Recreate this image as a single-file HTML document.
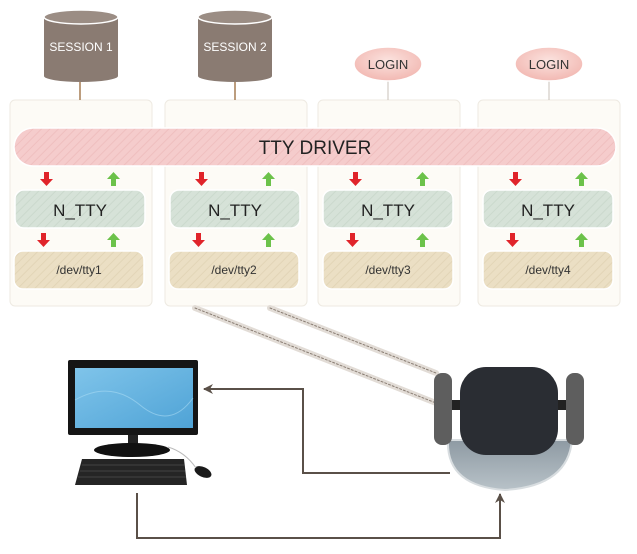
<!DOCTYPE html>
<html><head><meta charset="utf-8"><style>
html,body{margin:0;padding:0;background:#fff;overflow:hidden;}
svg{display:block;font-family:"Liberation Sans",sans-serif;}
</style></head><body>
<svg width="637" height="554" viewBox="0 0 637 554" xmlns="http://www.w3.org/2000/svg">
<defs>
<pattern id="hp" width="6" height="6" patternUnits="userSpaceOnUse" patternTransform="rotate(45)"><rect width="6" height="6" fill="#f5cccc"/><line x1="0" y1="0" x2="0" y2="6" stroke="#efbfbf" stroke-width="2"/></pattern>
<pattern id="hg" width="6" height="6" patternUnits="userSpaceOnUse" patternTransform="rotate(45)"><rect width="6" height="6" fill="#d6e2d8"/><line x1="0" y1="0" x2="0" y2="6" stroke="#cbd9cd" stroke-width="2"/></pattern>
<pattern id="ht" width="6" height="6" patternUnits="userSpaceOnUse" patternTransform="rotate(45)"><rect width="6" height="6" fill="#ebdfc4"/><line x1="0" y1="0" x2="0" y2="6" stroke="#e2d5b7" stroke-width="2"/></pattern>
<radialGradient id="lg" cx="0.5" cy="0.4" r="0.6"><stop offset="0" stop-color="#fbe3df"/><stop offset="1" stop-color="#f2b8b2"/></radialGradient>
<linearGradient id="scr" x1="0" y1="0" x2="1" y2="1"><stop offset="0" stop-color="#7fc4ea"/><stop offset="1" stop-color="#4fa3d6"/></linearGradient>
<linearGradient id="seat" x1="0" y1="0" x2="0" y2="1"><stop offset="0" stop-color="#8e9aa3"/><stop offset="1" stop-color="#b8c2c8"/></linearGradient>
<marker id="ah" markerWidth="10" markerHeight="10" refX="9" refY="5" orient="auto" markerUnits="userSpaceOnUse"><path d="M0,0 L10,5 L0,10 L3,5 Z" fill="#5a5048"/></marker>
</defs>

<g fill="#fdfbf6" stroke="#eeeae2" stroke-width="1">
<rect x="10" y="100" width="142" height="206" rx="5"/>
<rect x="165" y="100" width="142" height="206" rx="5"/>
<rect x="318" y="100" width="142" height="206" rx="5"/>
<rect x="478" y="100" width="142" height="206" rx="5"/>
</g>

<g>
<line x1="80" y1="82" x2="80" y2="100" stroke="#a67c52" stroke-width="1.5"/>
<line x1="235" y1="82" x2="235" y2="100" stroke="#a67c52" stroke-width="1.5"/>
<path d="M44,18 L44,76 A37,6 0 0 0 118,76 L118,18 Z" fill="#8a7b72"/>
<ellipse cx="81" cy="17" rx="37" ry="7" fill="#9b8d84" stroke="#fff" stroke-width="1.5"/>
<text x="81" y="51" font-size="12" fill="#fff" text-anchor="middle">SESSION 1</text>
<path d="M198,18 L198,76 A37,6 0 0 0 272,76 L272,18 Z" fill="#8a7b72"/>
<ellipse cx="235" cy="17" rx="37" ry="7" fill="#9b8d84" stroke="#fff" stroke-width="1.5"/>
<text x="235" y="51" font-size="12" fill="#fff" text-anchor="middle">SESSION 2</text>
</g>

<line x1="388" y1="80" x2="388" y2="100" stroke="#c8c0b8" stroke-width="1"/>
<line x1="549" y1="80" x2="549" y2="100" stroke="#c8c0b8" stroke-width="1"/>
<ellipse cx="388" cy="64" rx="34" ry="17" fill="url(#lg)" stroke="#fff" stroke-width="1.5"/>
<text x="388" y="69" font-size="13" fill="#333" text-anchor="middle">LOGIN</text>
<ellipse cx="549" cy="64" rx="34" ry="17" fill="url(#lg)" stroke="#fff" stroke-width="1.5"/>
<text x="549" y="69" font-size="13" fill="#333" text-anchor="middle">LOGIN</text>

<rect x="14" y="128" width="602" height="38" rx="19" fill="url(#hp)" stroke="#fff" stroke-width="1.5"/>
<text x="315" y="154" font-size="19" fill="#222" text-anchor="middle">TTY DRIVER</text>

<g font-size="17" fill="#222" text-anchor="middle">
<rect x="15" y="190" width="130" height="38" rx="9" fill="url(#hg)" stroke="#fff" stroke-width="1.5"/>
<text x="80" y="216">N_TTY</text>
<rect x="170" y="190" width="130" height="38" rx="9" fill="url(#hg)" stroke="#fff" stroke-width="1.5"/>
<text x="235" y="216">N_TTY</text>
<rect x="323" y="190" width="130" height="38" rx="9" fill="url(#hg)" stroke="#fff" stroke-width="1.5"/>
<text x="388" y="216">N_TTY</text>
<rect x="483" y="190" width="130" height="38" rx="9" fill="url(#hg)" stroke="#fff" stroke-width="1.5"/>
<text x="548" y="216">N_TTY</text>
</g>
<g font-size="12" fill="#333" text-anchor="middle">
<rect x="14" y="251" width="130" height="38" rx="9" fill="url(#ht)" stroke="#fff" stroke-width="1.5"/>
<text x="79" y="274">/dev/tty1</text>
<rect x="169" y="251" width="130" height="38" rx="9" fill="url(#ht)" stroke="#fff" stroke-width="1.5"/>
<text x="234" y="274">/dev/tty2</text>
<rect x="323" y="251" width="130" height="38" rx="9" fill="url(#ht)" stroke="#fff" stroke-width="1.5"/>
<text x="388" y="274">/dev/tty3</text>
<rect x="483" y="251" width="130" height="38" rx="9" fill="url(#ht)" stroke="#fff" stroke-width="1.5"/>
<text x="548" y="274">/dev/tty4</text>
</g>

<g fill="#e0242a">
<path d="M44,172 h5 v7 h4 l-6.5,7 l-6.5,-7 h4z"/>
<path d="M41,233 h5 v7 h4 l-6.5,7 l-6.5,-7 h4z"/>
<path d="M199,172 h5 v7 h4 l-6.5,7 l-6.5,-7 h4z"/>
<path d="M196,233 h5 v7 h4 l-6.5,7 l-6.5,-7 h4z"/>
<path d="M353,172 h5 v7 h4 l-6.5,7 l-6.5,-7 h4z"/>
<path d="M350,233 h5 v7 h4 l-6.5,7 l-6.5,-7 h4z"/>
<path d="M513,172 h5 v7 h4 l-6.5,7 l-6.5,-7 h4z"/>
<path d="M510,233 h5 v7 h4 l-6.5,7 l-6.5,-7 h4z"/>
</g>
<g fill="#6cc24a">
<path d="M111,186 h5 v-7 h4 l-6.5,-7 l-6.5,7 h4z"/>
<path d="M111,247 h5 v-7 h4 l-6.5,-7 l-6.5,7 h4z"/>
<path d="M266,186 h5 v-7 h4 l-6.5,-7 l-6.5,7 h4z"/>
<path d="M266,247 h5 v-7 h4 l-6.5,-7 l-6.5,7 h4z"/>
<path d="M420,186 h5 v-7 h4 l-6.5,-7 l-6.5,7 h4z"/>
<path d="M420,247 h5 v-7 h4 l-6.5,-7 l-6.5,7 h4z"/>
<path d="M579,186 h5 v-7 h4 l-6.5,-7 l-6.5,7 h4z"/>
<path d="M579,247 h5 v-7 h4 l-6.5,-7 l-6.5,7 h4z"/>
</g>

<g stroke-linecap="round">
<line x1="195" y1="308" x2="436" y2="403" stroke="#e2dcd6" stroke-width="6"/>
<line x1="195" y1="308" x2="436" y2="403" stroke="#8a7e74" stroke-width="1" stroke-dasharray="2,2"/>
<line x1="270" y1="308" x2="436" y2="373" stroke="#e2dcd6" stroke-width="6"/>
<line x1="270" y1="308" x2="436" y2="373" stroke="#8a7e74" stroke-width="1" stroke-dasharray="2,2"/>
</g>

<path d="M450,473 H303 V389 H204" fill="none" stroke="#5a5048" stroke-width="2" marker-end="url(#ah)"/>
<path d="M137,493 V538 H500 V494" fill="none" stroke="#5a5048" stroke-width="2" marker-end="url(#ah)"/>

<!-- computer -->
<rect x="68" y="360" width="130" height="75" rx="2" fill="#151515"/>
<rect x="75" y="368" width="118" height="60" fill="url(#scr)"/>
<path d="M75,400 Q110,380 140,405 T193,398" fill="none" stroke="#a9dbf3" stroke-width="1" opacity="0.6"/>
<rect x="128" y="435" width="10" height="14" fill="#222"/>
<ellipse cx="132" cy="450" rx="38" ry="7" fill="#111"/>
<path d="M82,459 H184 L187,485 H75 Z" fill="#252525"/>
<g stroke="#444" stroke-width="1">
<line x1="82" y1="465" x2="184" y2="465"/><line x1="80" y1="471" x2="185" y2="471"/><line x1="78" y1="477" x2="186" y2="477"/>
</g>
<ellipse cx="203" cy="472" rx="9" ry="5" fill="#1a1a1a" transform="rotate(25 203 472)"/>
<path d="M168,447 Q185,452 196,468" fill="none" stroke="#bbb" stroke-width="1"/>

<!-- chair -->
<path d="M448,440 Q446,486 505,490 Q568,486 572,440 Z" fill="url(#seat)" stroke="#d8dde0" stroke-width="2"/>
<rect x="434" y="373" width="18" height="72" rx="8" fill="#5e5e5e"/>
<rect x="566" y="373" width="18" height="72" rx="8" fill="#5e5e5e"/>
<rect x="452" y="400" width="114" height="10" fill="#222"/>
<rect x="460" y="367" width="98" height="88" rx="26" fill="#2a2d33"/>
</svg>
</body></html>
